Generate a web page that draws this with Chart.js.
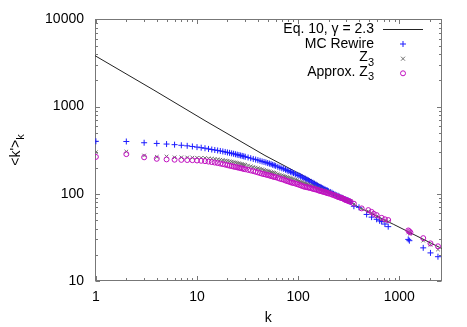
<!DOCTYPE html>
<html><head><meta charset="utf-8">
<script src="https://cdn.jsdelivr.net/npm/chart.js@4.4.1/dist/chart.umd.min.js"></script>
<style>html,body{margin:0;padding:0;background:#fff;}</style>
</head><body>
<canvas id="c" width="467" height="327"></canvas>
<script>
// ---- data ----
const xTickLabels = [1, 10, 100, 1000];
const yTickLabels = [10, 100, 1000, 10000];

const eqK   = [0.95, 3.75, 12, 47, 131, 409, 873, 2630];
const eqVal = [3920, 1545, 690, 275, 147, 69, 44.8, 23.6];

const denseK = [1,2,3,4,5,6,7,8,9,10,11,12,13,14,15,16,17,18,19,20,
  21,22,23,24,25,26,27,28,29,30,
  32,34,36,38,40,42,44,46,48,50,52,54,56,58,60,
  63,66,69,72,75,78,81,84,87,90,
  94,98,102,106,110,114,118,122,126,130,
  135,140,145,150,155,160,165,170,175,180,185,190,195,200,
  208,216,224,232,240,248,256,264,272,280,288,296,304,312,320,330];

const mcRewireDense = [400,398,385,378,372,366,360,355,349,343,338,333,327,322,318,314,310,306,302,298,
  295,291,288,284,281,278,275,272,269,266,
  261,256,251,247,243,239,235,232,229,225,222,219,215,212,209,
  204,200,196,193,189,185,182,179,176,173,
  169,165,162,159,155,152,149,146,143,140,
  137,134,131,128,125,122,120,118,116,114,112,110,109,107,
  105,103,100,98,96,95,93,91,90,88,87,86,85,84,82,81];
const z3Dense = [300,305,275,265,268,262,262,261,260,259,258,257,255,253,251,249,246,244,241,239,
  236,234,231,229,226,224,221,219,217,215,
  211,207,203,200,197,194,191,188,185,183,181,178,176,174,172,
  169,166,163,161,158,156,154,152,150,148,
  145,143,140,138,136,134,132,130,128,126,
  124,122,120,118,116,115,113,112,110,109,108,107,106,105,
  103,101,99,97,96,94,93,91,90,89,87,86,85,84,83,82];
const approxZ3Dense = [265,285,262,252,248,246,245,244,243,241,239,237,234,231,228,225,222,219,216,213,
  210,208,205,203,201,199,197,195,193,191,
  188,185,182,179,176,173,170,168,166,164,162,160,158,156,155,
  152,149,147,145,142,140,138,136,134,133,
  131,129,127,125,123,121,120,119,118,117,
  116,114,113,112,111,109,108,107,106,105,104,103,102,101,
  100,98,97,95,94,92,91,90,89,88,86,85,84,83,82,81];

const mcRewireSparseK = [356,400,476,533,598,640,670,722,778,1228,1260,1727,2037,2415];
const mcRewireSparse  = [72,70,58,54,51,49,48,45,42,30,29,24,21,19];
const z3SparseK = [356,425,494,533,598,670,722,778,1228,1276,1727,2037,2415];
const z3Sparse  = [76,67,63,60,55,51,49,48,36,35,29,26,23];
const approxZ3SparseK = [356,425,494,533,560,598,670,722,778,1228,1260,1290,1727,2037,2415];
const approxZ3Sparse  = [77,68,65,62,59,57,53,51,50,38,37,36,31,27,25];

const seriesLabels = ['Eq. 10, γ = 2.3', 'MC Rewire', 'Z', 'Approx. Z'];
const subLabel = '3';

// ---- build ----
const FONT = '"Liberation Sans", Arial, Helvetica, sans-serif';
const toPts = (ks, vs) => ks.map((k, i) => ({x: k, y: vs[i]}));
const BLUE = '#1c1cff', GRAY = '#6e6e6e', MAG = '#c010c0', AXIS = '#777';

const overlay = {
  id: 'overlay',
  beforeDatasetsDraw(chart) {
    const {ctx, chartArea: a, scales: {x, y}} = chart;
    ctx.save();
    ctx.strokeStyle = AXIS; ctx.lineWidth = 1;
    const L = Math.round(a.left) + 0.5, R = Math.round(a.right) - 0.5;
    const T = Math.round(a.top) + 0.5, B = Math.round(a.bottom) - 0.5;
    ctx.beginPath();
    for (let d = 0; d <= 3; d++) {
      for (let m = 1; m <= 9; m++) {
        const v = m * Math.pow(10, d);
        if (v < x.min || v > x.max) continue;
        const px = Math.round(x.getPixelForValue(v)) + 0.5;
        const len = m === 1 ? 4.5 : 2.5;
        ctx.moveTo(px, B); ctx.lineTo(px, B - len);
        ctx.moveTo(px, T); ctx.lineTo(px, T + len);
      }
    }
    for (let d = 1; d <= 4; d++) {
      for (let m = 1; m <= 9; m++) {
        const v = m * Math.pow(10, d);
        if (v < y.min || v > y.max) continue;
        const py = Math.round(y.getPixelForValue(v)) + 0.5;
        const len = m === 1 ? 4.5 : 2.5;
        ctx.moveTo(L, py); ctx.lineTo(L + len, py);
        ctx.moveTo(R, py); ctx.lineTo(R - len, py);
      }
    }
    ctx.stroke();
    ctx.strokeRect(L, T, R - L, B - T);
    ctx.restore();
  },
  afterDraw(chart) {
    const {ctx} = chart;
    ctx.save();
    ctx.fillStyle = '#000';
    ctx.textBaseline = 'middle';
    const rows = [29.3, 44, 58.7, 73.3];
    const tx = 374, mx = 403;
    ctx.font = '14px ' + FONT;
    ctx.textAlign = 'right';
    ctx.fillText(seriesLabels[0], tx, rows[0]);
    ctx.fillText(seriesLabels[1], tx, rows[1]);
    const drawSub = (main, sub, right, yy) => {
      ctx.font = '14px ' + FONT;
      const w1 = ctx.measureText(main).width;
      ctx.font = '11px ' + FONT;
      const w2 = ctx.measureText(sub).width;
      const left = right - w1 - w2;
      ctx.textAlign = 'left';
      ctx.font = '14px ' + FONT;
      ctx.fillText(main, left, yy - 1.5);
      ctx.font = '11px ' + FONT;
      ctx.fillText(sub, left + w1, yy + 4);
    };
    drawSub(seriesLabels[2], subLabel, tx, rows[2]);
    drawSub(seriesLabels[3], subLabel, tx, rows[3]);
    ctx.lineWidth = 1;
    ctx.strokeStyle = '#222';
    ctx.beginPath(); ctx.moveTo(383, Math.round(rows[0]) + 0.5); ctx.lineTo(423, Math.round(rows[0]) + 0.5); ctx.stroke();
    ctx.strokeStyle = BLUE;
    ctx.beginPath();
    ctx.moveTo(mx - 3, rows[1]); ctx.lineTo(mx + 3, rows[1]);
    ctx.moveTo(mx, rows[1] - 3); ctx.lineTo(mx, rows[1] + 3); ctx.stroke();
    ctx.strokeStyle = GRAY;
    ctx.beginPath();
    ctx.moveTo(mx - 2, rows[2] - 2); ctx.lineTo(mx + 2, rows[2] + 2);
    ctx.moveTo(mx - 2, rows[2] + 2); ctx.lineTo(mx + 2, rows[2] - 2); ctx.stroke();
    ctx.strokeStyle = MAG;
    ctx.beginPath(); ctx.arc(mx, rows[3], 2.5, 0, Math.PI * 2); ctx.stroke();

    // y-axis title <k'>_k
    ctx.translate(20, 150);
    ctx.rotate(-Math.PI / 2);
    ctx.font = '14px ' + FONT;
    const main = "<k'>";
    const w1 = ctx.measureText(main).width;
    ctx.font = '11px ' + FONT;
    const w2 = ctx.measureText('k').width;
    const start = -(w1 + w2) / 2;
    ctx.textAlign = 'left';
    ctx.textBaseline = 'alphabetic';
    ctx.font = '14px ' + FONT;
    ctx.fillText(main, start, 0);
    ctx.font = '11px ' + FONT;
    ctx.fillText('k', start + w1, 4);
    ctx.restore();
  }
};

new Chart(document.getElementById('c'), {
  type: 'scatter',
  data: {
    datasets: [
      {label: seriesLabels[0], type: 'line', data: toPts(eqK, eqVal), borderColor: '#222', borderWidth: 1,
       pointRadius: 0, showLine: true, fill: false, tension: 0, order: 4},
      {label: seriesLabels[1], data: toPts(denseK.concat(mcRewireSparseK), mcRewireDense.concat(mcRewireSparse)),
       pointStyle: 'cross', radius: 3, borderColor: BLUE, backgroundColor: 'transparent', borderWidth: 1, order: 3},
      {label: seriesLabels[2] + subLabel, data: toPts(denseK.concat(z3SparseK), z3Dense.concat(z3Sparse)),
       pointStyle: 'crossRot', radius: 2.5, borderColor: GRAY, backgroundColor: 'transparent', borderWidth: 1, order: 2},
      {label: seriesLabels[3] + subLabel, data: toPts(denseK.concat(approxZ3SparseK), approxZ3Dense.concat(approxZ3Sparse)),
       pointStyle: 'circle', radius: 2.5, borderColor: MAG, backgroundColor: 'transparent', borderWidth: 1, order: 1}
    ]
  },
  options: {
    responsive: false, animation: false, devicePixelRatio: 1,
    layout: {padding: {left: 0, top: 18.3, right: 25.3, bottom: 0}},
    plugins: {legend: {display: false}, tooltip: {enabled: false}},
    scales: {
      x: {
        type: 'logarithmic', position: 'bottom', min: 0.98, max: 2630,
        afterBuildTicks: s => { s.ticks = xTickLabels.map(v => ({value: v})); },
        afterFit: s => { s.height = 46; },
        grid: {display: false, drawTicks: false}, border: {display: false},
        ticks: {font: {family: FONT, size: 14}, color: '#000', padding: 8, maxRotation: 0, autoSkip: false,
                callback: v => String(v)},
        title: {display: true, text: 'k', font: {family: FONT, size: 14}, color: '#000', padding: {top: 0, bottom: 0}}
      },
      y: {
        type: 'logarithmic', position: 'left', min: 10, max: 10000,
        afterBuildTicks: s => { s.ticks = yTickLabels.map(v => ({value: v})); },
        afterFit: s => { s.width = 95; },
        grid: {display: false, drawTicks: false}, border: {display: false},
        ticks: {font: {family: FONT, size: 14}, color: '#000', padding: 11, autoSkip: false,
                callback: v => String(v)}
      }
    }
  },
  plugins: [overlay]
});
</script>
</body></html>
